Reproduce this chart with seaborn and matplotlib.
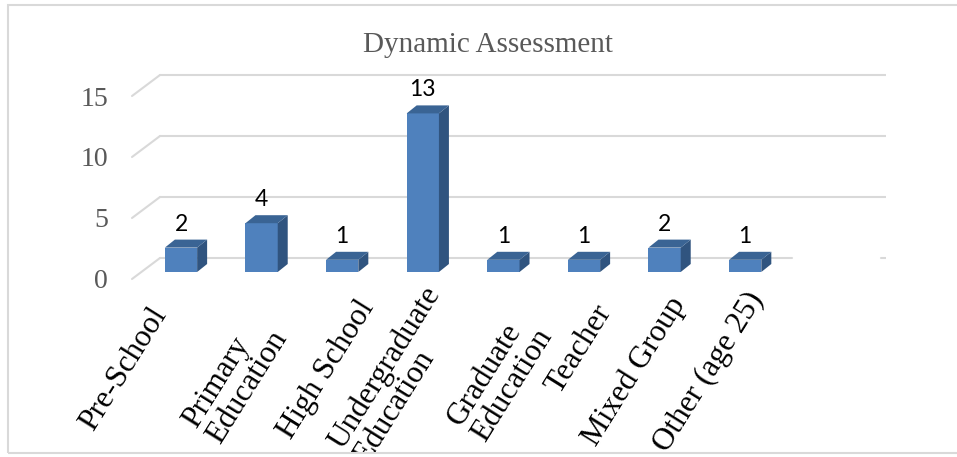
#!/usr/bin/env python3

import pandas as pd
import matplotlib
matplotlib.use("Agg")
import matplotlib.pyplot as plt
import matplotlib.transforms as mtransforms
from matplotlib.patches import Polygon, Rectangle
import seaborn as sns

# Data
categories = ["Pre-School", "Primary\nEducation", "High School",
              "Undergraduate\nEducation", "Graduate\nEducation", "Teacher",
              "Mixed Group", "Other (age 25)"]
counts = [2, 4, 1, 13, 1, 1, 2, 1]
yticks = [0, 5, 10, 15]

# Excel placed the rotated labels a bit irregularly: pixel nudges per label
label_nudge = [(-48, -5), (-32, 3), (-1, -12), (-16, -26),
               (-9, 1), (-6, -7), (-13, -15), (-15, -20)]

W, H, DPI = 957, 457, 100

sns.set_style("white")
plt.rcParams["font.family"] = ["Liberation Serif", "DejaVu Serif"]

fig = plt.figure(figsize=(W / DPI, H / DPI), dpi=DPI)

# axes box in pixels
ax_l, ax_t, ax_r, ax_b = 132, 60, 886, 290
ax = fig.add_axes([ax_l / W, 1 - ax_b / H, (ax_r - ax_l) / W, (ax_b - ax_t) / H])
ax.patch.set_alpha(0)

# pixel scale of the front plane
step = 80.6    # px per category
unit = 12.2    # px per count
x0_px = 181    # centre of first bar
base_px = 272  # front baseline of the bars

df = pd.DataFrame({"group": categories, "count": counts})
sns.barplot(data=df, x="group", y="count", width=0.4, color="#4F81BD",
            saturation=1, linewidth=0, ax=ax, zorder=3)

ax.set_xlim((ax_l - x0_px) / step, (ax_r - x0_px) / step)
ax.set_ylim((base_px - ax_b) / unit, (base_px - ax_t) / unit)

# back wall gridlines + side wall diagonals (pseudo 3D)
grid_col = "#D9D9D9"
back_x0 = (160 - x0_px) / step
front_x0 = (132 - x0_px) / step
back_dy = 14 / unit
front_dy = -7 / unit
x_end = ax.get_xlim()[1]
for v in yticks:
    if v == 0:
        gap0, gap1 = (792 - x0_px) / step, (881 - x0_px) / step
        ax.plot([back_x0, gap0], [v + back_dy] * 2, color=grid_col, lw=1.5, zorder=1)
        ax.plot([gap1, x_end], [v + back_dy] * 2, color=grid_col, lw=1.5, zorder=1)
    else:
        ax.plot([back_x0, x_end], [v + back_dy] * 2, color=grid_col, lw=1.5, zorder=1)
    ax.plot([front_x0, back_x0], [v + front_dy, v + back_dy], color=grid_col,
            lw=1.5, zorder=1, clip_on=False)

# depth faces of the bars
dx = 10 / step
dy = 8 / unit
lift = mtransforms.ScaledTranslation(0, 9 / DPI, fig.dpi_scale_trans)
for p, c in zip(ax.patches, counts):
    x0, w, h = p.get_x(), p.get_width(), p.get_height()
    x1 = x0 + w
    ax.add_patch(Polygon([(x1, 0), (x1 + dx, dy), (x1 + dx, h + dy), (x1, h)],
                         closed=True, facecolor="#30547F", edgecolor="none", zorder=3))
    ax.add_patch(Polygon([(x0, h), (x0 + dx, h + dy), (x1 + dx, h + dy), (x1, h)],
                         closed=True, facecolor="#3A6494", edgecolor="none", zorder=3))
    ax.text(x0 + w / 2, h + dy, str(c), ha="center", va="baseline", fontsize=16.5,
            family=["Lato", "DejaVu Sans"], color="black",
            transform=ax.transData + lift, zorder=4)

for s in ax.spines.values():
    s.set_visible(False)
ax.set_xlabel("")
ax.set_ylabel("")

# y ticks
ax.set_yticks(yticks)
ax.set_yticklabels([str(v) for v in yticks])
ax.tick_params(axis="y", length=0, pad=17.3, labelsize=20, labelcolor="#595959")
ydown = mtransforms.ScaledTranslation(0, -7 / DPI, fig.dpi_scale_trans)
for lab in ax.get_yticklabels():
    lab.set_transform(lab.get_transform() + ydown)

# x ticks
ax.set_xticks(range(len(categories)))
ax.set_xticklabels(categories, rotation=58, ha="right", va="top",
                   rotation_mode="anchor", multialignment="left",
                   linespacing=1.0, fontsize=22.5, color="black")
ax.tick_params(axis="x", length=0, pad=12.2)
clip = mtransforms.TransformedBbox(
    mtransforms.Bbox.from_extents(8 / W, (H - 452) / H, 1, (H - 5) / H), fig.transFigure)
for lab, (ndx, ndy) in zip(ax.get_xticklabels(), label_nudge):
    shift = mtransforms.ScaledTranslation((15 + ndx) / DPI, -ndy / DPI, fig.dpi_scale_trans)
    lab.set_transform(lab.get_transform() + shift)
    lab.set_clip_box(clip)
    lab.set_clip_on(True)

# title and chart frame
fig.text(488 / W, 1 - 45 / H, "Dynamic Assessment", ha="center", va="center",
         fontsize=21, color="#595959")
fig.add_artist(Rectangle((8 / W, (H - 453) / H), 1, (453 - 5) / H,
                         transform=fig.transFigure, fill=False,
                         edgecolor=grid_col, lw=1.5))

fig.savefig("out.png", dpi=DPI)
